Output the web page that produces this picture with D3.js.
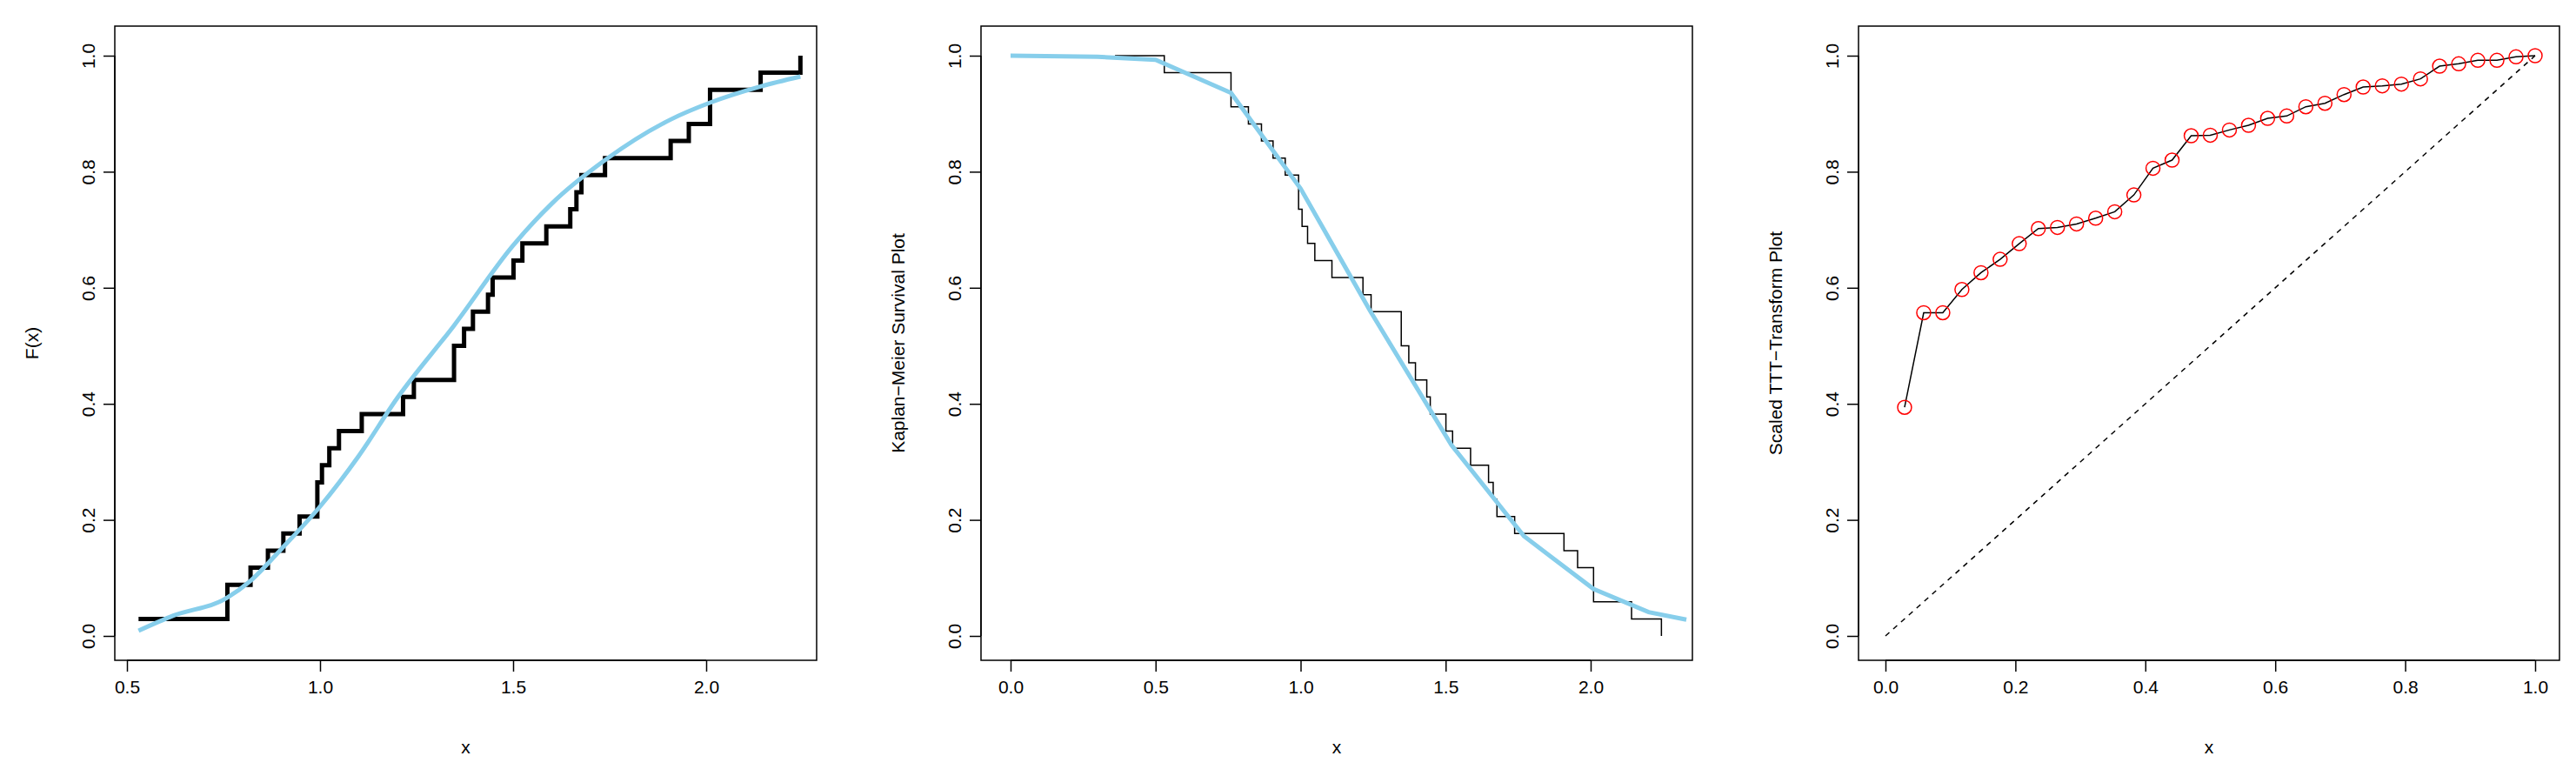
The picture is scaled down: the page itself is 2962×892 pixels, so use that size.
<!DOCTYPE html>
<html>
<head>
<meta charset="utf-8">
<script src="https://cdn.jsdelivr.net/npm/d3@7"></script>
<style>
body { margin: 0; background: #fff; }
svg { font-family: "Liberation Sans", Arial, sans-serif; }
</style>
</head>
<body>
<svg id="chart" width="2962" height="892"></svg>
<script>
// sample (n = 34), read from the ECDF steps
const sample = [0.53, 0.76, 0.76, 0.82, 0.865, 0.905, 0.947, 0.993, 0.993, 1.005, 1.024, 1.049,
  1.108, 1.215, 1.243, 1.347, 1.347, 1.373, 1.396, 1.435, 1.447, 1.501, 1.524, 1.586,
  1.648, 1.664, 1.677, 1.738, 1.908, 1.955, 2.010, 2.010, 2.141, 2.244];

// fitted CDF (panel 1)
const cdfX = [0.53, 0.62, 0.76, 0.82, 0.9, 1.0, 1.1, 1.2, 1.347, 1.5, 1.6, 1.738, 1.908, 2.01, 2.141, 2.244];
const cdfY = [0.009, 0.035, 0.066, 0.095, 0.15, 0.223, 0.31, 0.41, 0.535, 0.673, 0.745, 0.82, 0.89, 0.919, 0.947, 0.964];

// fitted survival (panel 2)
const survX = [0, 0.3, 0.5, 0.76, 1.0, 1.24, 1.52, 1.77, 2.01, 2.2, 2.33];
const survY = [1.0, 0.998, 0.993, 0.936, 0.771, 0.56, 0.329, 0.172, 0.081, 0.041, 0.028];
const kmStart = 0.36;

// scaled TTT transform (panel 3)
const tttY = [0.394, 0.557, 0.557, 0.597, 0.626, 0.649, 0.676, 0.702, 0.704, 0.710, 0.720, 0.731,
  0.760, 0.806, 0.820, 0.862, 0.863, 0.872, 0.880, 0.892, 0.896, 0.912, 0.918, 0.933, 0.946,
  0.948, 0.951, 0.960, 0.982, 0.986, 0.992, 0.992, 0.998, 1.0];

const yTicks = [0, 0.2, 0.4, 0.6, 0.8, 1.0];
const svg = d3.select("#chart");
const boxTop = 30, boxBottom = 759;
const y = d3.scaleLinear().domain([0, 1]).range([731, 64]);

function panel(left, right, x, xTicks, ylab) {
  const g = svg.append("g");
  g.append("rect").attr("x", left).attr("y", boxTop).attr("width", right - left).attr("height", boxBottom - boxTop)
    .attr("fill", "none").attr("stroke", "#000").attr("stroke-width", 1.5);
  g.append("g").attr("transform", `translate(0,${boxBottom})`)
    .call(d3.axisBottom(x).tickValues(xTicks).tickFormat(d3.format(".1f")).tickSize(13).tickPadding(10))
    .call(a => a.select(".domain").remove());
  g.append("line").attr("x1", x(xTicks[0])).attr("x2", x(xTicks[xTicks.length - 1]))
    .attr("y1", boxBottom).attr("y2", boxBottom).attr("stroke", "#000").attr("stroke-width", 1.5);
  const ya = g.append("g").attr("transform", `translate(${left},0)`)
    .call(d3.axisLeft(y).tickValues(yTicks).tickFormat(d3.format(".1f")).tickSize(13).tickPadding(0));
  ya.select(".domain").remove();
  ya.append("line").attr("x1", 0).attr("x2", 0).attr("y1", y(0)).attr("y2", y(1)).attr("stroke", "#000").attr("stroke-width", 1.5);
  ya.selectAll(".tick text").attr("transform", "rotate(-90)").attr("x", 0).attr("y", -30)
    .attr("dy", "0.35em").attr("text-anchor", "middle");
  g.selectAll(".tick text").attr("font-size", 21).attr("fill", "#000");
  g.selectAll(".tick line").attr("stroke-width", 1.5);
  g.append("text").attr("x", (left + right) / 2).attr("y", 866).attr("text-anchor", "middle")
    .attr("font-size", 21).text("x");
  g.append("text").attr("transform", `translate(${left - 88},${(boxTop + boxBottom) / 2}) rotate(-90)`)
    .attr("text-anchor", "middle").attr("font-size", 21).text(ylab);
  return g;
}

const n = sample.length;
const distinct = Array.from(new Set(sample));
const Fn = v => sample.filter(s => s <= v).length / n;
const blue = "#87CEEB";

// panel 1
const x1 = d3.scaleLinear().domain([0.5, 2.0]).range([146, 812]);
const g1 = panel(132, 939, x1, [0.5, 1.0, 1.5, 2.0], "F(x)");
g1.append("path").datum(distinct.map(v => [v, Fn(v)]))
  .attr("d", d3.line().x(d => x1(d[0])).y(d => y(d[1])).curve(d3.curveStepAfter))
  .attr("fill", "none").attr("stroke", "#000").attr("stroke-width", 5);
g1.append("path").datum(d3.zip(cdfX, cdfY))
  .attr("d", d3.line().x(d => x1(d[0])).y(d => y(d[1])).curve(d3.curveMonotoneX))
  .attr("fill", "none").attr("stroke", blue).attr("stroke-width", 5);

// panel 2
const x2 = d3.scaleLinear().domain([0, 2.0]).range([1162, 1829]);
const g2 = panel(1128, 1946, x2, [0, 0.5, 1.0, 1.5, 2.0], "Kaplan\u2212Meier Survival Plot");
const km = [[kmStart, 1]].concat(distinct.map(v => [v, 1 - Fn(v)]));
g2.append("path").datum(km)
  .attr("d", d3.line().x(d => x2(d[0])).y(d => y(d[1])).curve(d3.curveStepAfter))
  .attr("fill", "none").attr("stroke", "#000").attr("stroke-width", 1.5);
g2.append("path").datum(d3.zip(survX, survY))
  .attr("d", d3.line().x(d => x2(d[0])).y(d => y(d[1])))
  .attr("fill", "none").attr("stroke", blue).attr("stroke-width", 5);

// panel 3
const x3 = d3.scaleLinear().domain([0, 1]).range([2168, 2915]);
const g3 = panel(2137, 2943, x3, [0, 0.2, 0.4, 0.6, 0.8, 1.0], "Scaled TTT\u2212Transform Plot");
g3.append("line").attr("x1", x3(0)).attr("y1", y(0)).attr("x2", x3(1)).attr("y2", y(1))
  .attr("stroke", "#000").attr("stroke-width", 1.5).attr("stroke-dasharray", "6,6");
const ttt = tttY.map((v, i) => [(i + 1) / n, v]);
g3.append("path").datum(ttt)
  .attr("d", d3.line().x(d => x3(d[0])).y(d => y(d[1])))
  .attr("fill", "none").attr("stroke", "#000").attr("stroke-width", 1.5);
g3.selectAll("circle").data(ttt).join("circle")
  .attr("cx", d => x3(d[0])).attr("cy", d => y(d[1])).attr("r", 8)
  .attr("fill", "none").attr("stroke", "#ff0000").attr("stroke-width", 1.5);
</script>
</body>
</html>
